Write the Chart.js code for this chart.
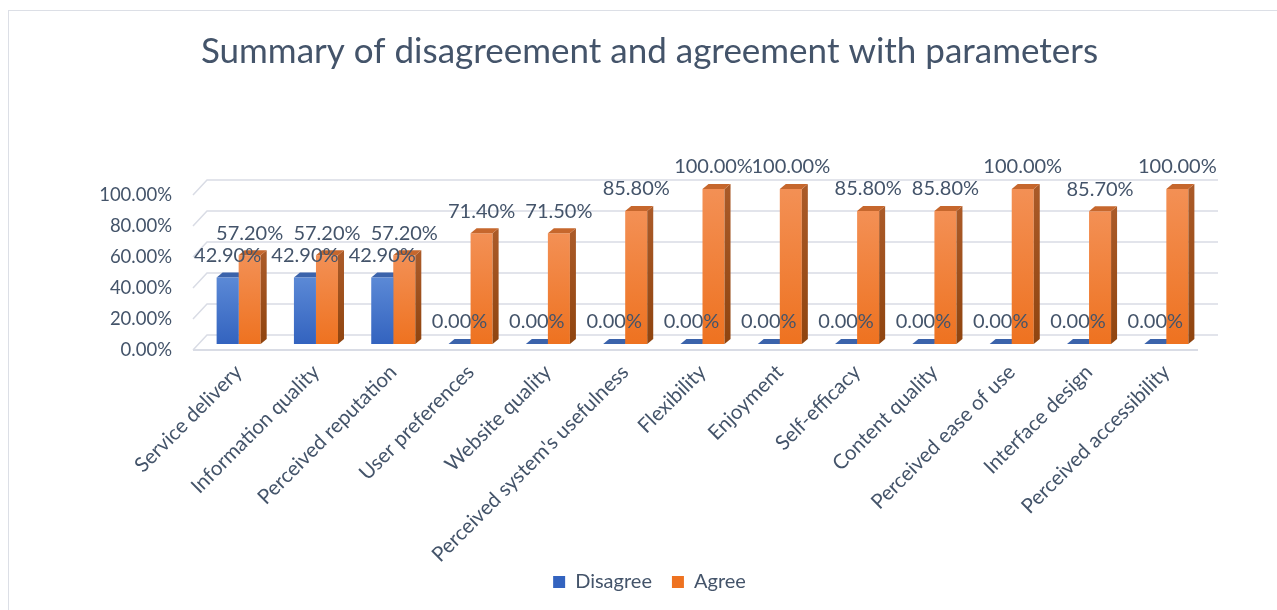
<!DOCTYPE html>
<html>
<head>
<meta charset="utf-8">
<title>Summary of disagreement and agreement with parameters</title>
<script src="https://cdn.jsdelivr.net/npm/chart.js@4.4.1/dist/chart.umd.min.js"></script>
<style>
    html, body { margin: 0; padding: 0; background: #fff; }
    #wrap { position: relative; width: 1277px; height: 610px; overflow: hidden; }
    #grafico { position: absolute; left: 0; top: 0; }
    #moldura { position: absolute; left: 8px; top: 10px; width: 1300px; height: 640px; border: 1px solid #dcdfe6; pointer-events: none; }
</style>
</head>
<body>
<div id="wrap">
    <canvas id="grafico" width="1277" height="610" style="width:1277px;height:610px"></canvas>
    <div id="moldura"></div>
</div>
<script>
// --- Data ---
const categories = [
    'Service delivery', 'Information quality', 'Perceived reputation', 'User preferences',
    'Website quality', "Perceived system's usefulness", 'Flexibility', 'Enjoyment',
    'Self-efficacy', 'Content quality', 'Perceived ease of use', 'Interface design',
    'Perceived accessibility'
];
const disagree = [42.9, 42.9, 42.9, 0, 0, 0, 0, 0, 0, 0, 0, 0, 0];
const agree = [57.2, 57.2, 57.2, 71.4, 71.5, 85.8, 100, 100, 85.8, 85.8, 100, 85.7, 100];
const yTicks = [0, 20, 40, 60, 80, 100];

// --- Look ---
const TEXT = '#44546a';
const FONT = 'Lato';
const GRID = '#d9dce5';
const BAR_DX = 6, BAR_DY = 5;          // depth of each column
const WALL_FRONT = 6, WALL_BACK = 9;   // floor / wall depth around the columns
const WALL_DX = 7;

const palette = [
    { top: '#5b89d6', bottom: '#3363bf', cap: '#3b63ab', side1: '#2f5499', side2: '#254786' },
    { top: '#f39055', bottom: '#ee7220', cap: '#c6672d', side1: '#aa5a28', side2: '#8f440f' }
];

const pct = (v) => v.toFixed(2) + '%';

// per bar vertical gradient for the front face
const frente = (i) => (context) => {
    const chart = context.chart;
    const c = palette[i];
    if (!chart.chartArea || context.parsed === undefined) return c.bottom;
    const y = chart.scales.y;
    const topo = y.getPixelForValue(context.parsed.y);
    const base = y.getPixelForValue(0);
    if (base - topo < 1) return c.bottom;
    const g = chart.ctx.createLinearGradient(0, topo, 0, base);
    g.addColorStop(0, c.top);
    g.addColorStop(1, c.bottom);
    return g;
};

// side + top faces of one dataset's columns
const desenharFaces = (chart, i) => {
    const { ctx } = chart;
    const c = palette[i];
    ctx.save();
    chart.getDatasetMeta(i).data.forEach((el) => {
        const { x, y, base, width } = el.getProps(['x', 'y', 'base', 'width'], true);
        const l = x - width / 2, r = x + width / 2;
        if (base - y > 0.5) {
            const g = ctx.createLinearGradient(0, y, 0, base);
            g.addColorStop(0, c.side1);
            g.addColorStop(1, c.side2);
            ctx.fillStyle = g;
            ctx.beginPath();
            ctx.moveTo(r, y);
            ctx.lineTo(r + BAR_DX, y - BAR_DY);
            ctx.lineTo(r + BAR_DX, base - BAR_DY);
            ctx.lineTo(r, base);
            ctx.closePath();
            ctx.fill();
        }
        ctx.fillStyle = c.cap;
        ctx.beginPath();
        ctx.moveTo(l, y);
        ctx.lineTo(r, y);
        ctx.lineTo(r + BAR_DX, y - BAR_DY);
        ctx.lineTo(l + BAR_DX, y - BAR_DY);
        ctx.closePath();
        ctx.fill();
    });
    ctx.restore();
};

// --- Back wall, floor, gridlines and the hidden faces of the blue columns ---
const paredePlugin = {
    id: 'parede',
    beforeDraw(chart) {
        // long category names run down past the axis box: don't clip them
        chart.scales.x._computeLabelArea = () => undefined;
    },
    beforeDatasetsDraw(chart) {
        const { ctx, chartArea } = chart;
        const y = chart.scales.y;
        ctx.save();
        ctx.strokeStyle = GRID;
        ctx.lineWidth = 1.5;
        yTicks.forEach((v) => {
            const py = y.getPixelForValue(v);
            ctx.beginPath();
            ctx.moveTo(chartArea.left - WALL_DX, py + WALL_FRONT);
            ctx.lineTo(chartArea.left + WALL_DX, py - WALL_BACK);
            ctx.lineTo(chartArea.right + 13, py - WALL_BACK);
            ctx.stroke();
        });
        const p0 = y.getPixelForValue(0);
        ctx.lineWidth = 2;
        ctx.beginPath();
        ctx.moveTo(chartArea.left - WALL_DX, p0 + WALL_FRONT);
        ctx.lineTo(chartArea.right - 7, p0 + WALL_FRONT);
        ctx.stroke();
        ctx.restore();
        // blue sides/tops go underneath, the orange fronts cover them
        desenharFaces(chart, 0);
    },
    afterDatasetsDraw(chart) {
        desenharFaces(chart, 1);
        // value labels
        const { ctx } = chart;
        ctx.save();
        ctx.font = `20px ${FONT}`;
        ctx.fillStyle = TEXT;
        ctx.textAlign = 'center';
        ctx.textBaseline = 'middle';
        chart.data.datasets.forEach((ds, i) => {
            chart.getDatasetMeta(i).data.forEach((el, j) => {
                ctx.fillText(pct(ds.data[j]), el.x, el.y - 22);
            });
        });
        ctx.restore();
    }
};

new Chart(document.getElementById('grafico'), {
    type: 'bar',
    data: {
        labels: categories,
        datasets: [
            { label: 'Disagree', data: disagree, backgroundColor: frente(0) },
            { label: 'Agree', data: agree, backgroundColor: frente(1) }
        ]
    },
    options: {
        responsive: false,
        animation: false,
        events: [],
        categoryPercentage: 0.57,
        barPercentage: 1,
        layout: { padding: { left: 94, right: 72, top: 0, bottom: 8 } },
        scales: {
            x: {
                grid: { display: false, drawTicks: false },
                border: { display: false },
                ticks: {
                    autoSkip: false, minRotation: 45, maxRotation: 45, padding: 16,
                    color: TEXT, font: { family: FONT, size: 20.5 }
                },
                afterFit: (s) => { s.height = 610 - 344 - s.chart.legend.height - 8; }
            },
            y: {
                min: 0, max: 100,
                afterBuildTicks: (s) => { s.ticks = yTicks.map((v) => ({ value: v })); },
                grid: { display: false, drawTicks: false },
                border: { display: false },
                ticks: {
                    padding: 28, labelOffset: 6, color: TEXT,
                    font: { family: FONT, size: 18.5 },
                    callback: (v) => pct(v)
                },
                afterFit: (s) => { s.width = 106; }
            }
        },
        plugins: {
            title: {
                display: true,
                text: 'Summary of disagreement and agreement with parameters',
                color: TEXT,
                font: { family: FONT, size: 35, weight: 'normal' },
                padding: { top: 31, bottom: 116 }
            },
            legend: {
                position: 'bottom',
                labels: {
                    boxWidth: 12, boxHeight: 12, padding: 20, color: TEXT,
                    font: { family: FONT, size: 20 }
                }
            },
            tooltip: { enabled: false }
        }
    },
    plugins: [paredePlugin]
});
</script>
</body>
</html>
